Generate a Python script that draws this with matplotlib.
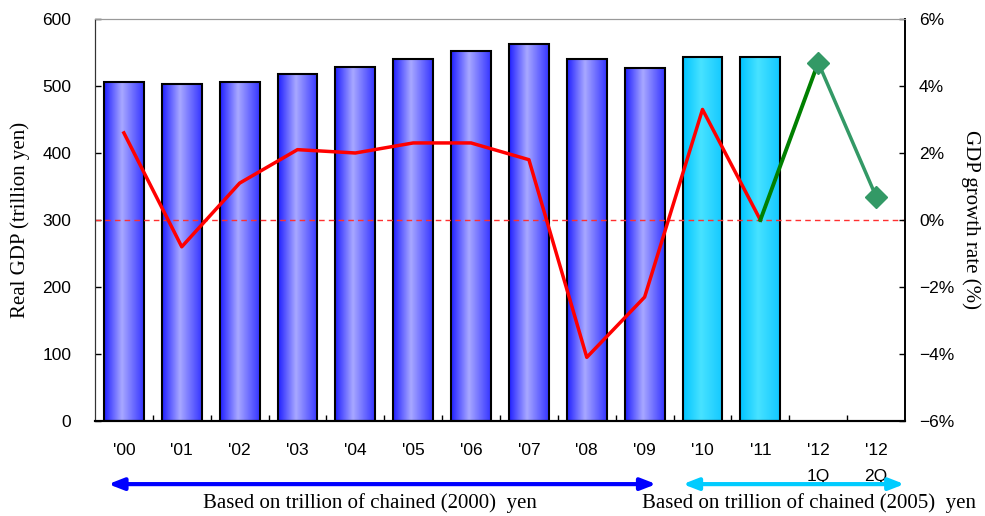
import numpy as np
import matplotlib.pyplot as plt
from matplotlib.colors import LinearSegmentedColormap

years = ["'00", "'01", "'02", "'03", "'04", "'05", "'06", "'07", "'08", "'09",
         "'10", "'11", "'12\n1Q", "'12\n2Q"]
gdp_2000 = [506, 503, 506, 518, 528, 540, 552, 563, 540, 527]
gdp_2005 = [543, 543]
growth_annual = [2.6, -0.8, 1.1, 2.1, 2.0, 2.3, 2.3, 1.8, -4.1, -2.3, 3.3, 0.0]
growth_quarter = [4.7, 0.7]

x = np.arange(len(years))
n_old = len(gdp_2000)
n_new = len(gdp_2005)

blue_cm = LinearSegmentedColormap.from_list(
    'blue', [(0, '#1f1fff'), (0.45, '#a8a8ff'), (1, '#3535ff')])
cyan_cm = LinearSegmentedColormap.from_list(
    'cyan', [(0, '#00c4ff'), (0.45, '#48e2ff'), (1, '#12c8ff')])

tick_font = 'Liberation Sans'
serif_font = 'Liberation Serif'

fig = plt.figure(figsize=(9.85, 5.16), dpi=100)
ax = fig.add_axes([0.0964, 0.1841, 0.8224, 0.7791])
ax2 = ax.twinx()

bars_old = ax.bar(x[:n_old], gdp_2000, width=0.69, facecolor='none',
                  edgecolor='black', linewidth=1.5, zorder=3)
bars_new = ax.bar(x[n_old:n_old + n_new], gdp_2005, width=0.69, facecolor='none',
                  edgecolor='black', linewidth=1.5, zorder=3)

# horizontal gradient fill clipped to each bar
grad = np.linspace(0, 1, 256).reshape(1, -1)
for bars, cm in ((bars_old, blue_cm), (bars_new, cyan_cm)):
    for rect in bars:
        x0, y0 = rect.get_xy()
        w, h = rect.get_width(), rect.get_height()
        im = ax.imshow(grad, cmap=cm, extent=(x0, x0 + w, y0, y0 + h),
                       aspect='auto', zorder=2, interpolation='bilinear')
        im.set_clip_path(rect)

ax.set_xlim(-0.5, len(years) - 0.5)
ax.set_ylim(0, 600)
ax.set_yticks(range(0, 601, 100))
ax.set_xticks(x)
ax.set_xticklabels(years, linespacing=1.9, va='top')
ax.set_xticks(np.arange(0.5, len(years) - 1, 1), minor=True)
ax.tick_params(axis='x', which='major', length=0, pad=16)
ax.tick_params(axis='x', which='minor', direction='in', length=4, width=1)
ax.tick_params(axis='y', length=4, width=1, direction='in', pad=17)
ax.set_ylabel('Real GDP (trillion yen)', family=serif_font, fontsize=15, labelpad=9)

# growth rate lines on the right axis
ax2.axhline(0, color='#ff3030', linestyle=(0, (4, 3)), linewidth=1, zorder=1)
ax2.plot(x[:len(growth_annual)], growth_annual, color='#ff0000', linewidth=2.5,
         solid_joinstyle='round', zorder=4)
ax2.plot([x[len(growth_annual) - 1], x[len(growth_annual)]],
         [growth_annual[-1], growth_quarter[0]], color='#008000', linewidth=2.8, zorder=4)
ax2.plot(x[len(growth_annual):], growth_quarter, color='#339966', linewidth=2.5,
         marker='D', markersize=11, zorder=5)
ax2.set_ylim(-6, 6)
ax2.set_yticks(range(-6, 7, 2))
ax2.set_yticklabels([f'{v}%' if v >= 0 else f'\u2212{-v}%' for v in range(-6, 7, 2)])
ax2.tick_params(axis='y', length=4, width=1, direction='in', pad=10)
ax2.set_ylabel('GDP growth rate (%)', family=serif_font, fontsize=15,
               rotation=-90, labelpad=19)

for a in (ax, ax2):
    for lbl in a.get_xticklabels() + a.get_yticklabels():
        lbl.set_family(tick_font)
        lbl.set_fontsize(12.5)
    a.spines['top'].set_color('#999999')
    a.spines['left'].set_color('#333333')
    a.spines['bottom'].set_linewidth(1.5)
    a.spines['right'].set_linewidth(1.2)

# series base-year arrows and captions
ax2.annotate('', xy=(-0.27, -0.157), xytext=(9.2, -0.157),
             xycoords=('data', 'axes fraction'), textcoords=('data', 'axes fraction'),
             arrowprops=dict(arrowstyle='<|-|>,head_length=0.9,head_width=0.35',
                             color='#0000ff', linewidth=3, shrinkA=0, shrinkB=0),
             annotation_clip=False)
ax2.annotate('', xy=(9.66, -0.157), xytext=(13.49, -0.157),
             xycoords=('data', 'axes fraction'), textcoords=('data', 'axes fraction'),
             arrowprops=dict(arrowstyle='<|-|>,head_length=0.9,head_width=0.35',
                             color='#00ccff', linewidth=3, shrinkA=0, shrinkB=0),
             annotation_clip=False)
ax2.text(4.25, -0.205, 'Based on trillion of chained (2000)  yen', ha='center', va='center',
         transform=ax2.get_xaxis_transform(), family=serif_font, fontsize=15)
ax2.text(8.96, -0.205, 'Based on trillion of chained (2005)  yen', ha='left', va='center',
         transform=ax2.get_xaxis_transform(), family=serif_font, fontsize=15)

fig.savefig('out.png', dpi=100)
